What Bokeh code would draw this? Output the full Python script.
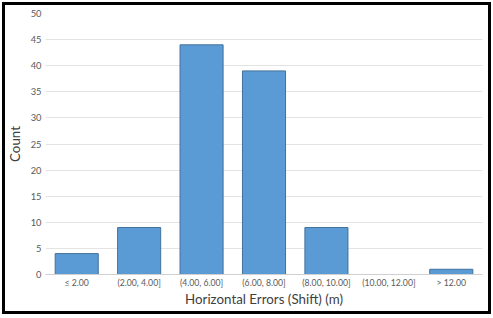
from bokeh.plotting import figure
from bokeh.models import FixedTicker, Range1d
from bokeh.embed import file_html
from bokeh.resources import INLINE

categories = ["≤ 2.00", "(2.00, 4.00]", "(4.00, 6.00]", "(6.00, 8.00]",
              "(8.00, 10.00]", "(10.00, 12.00]", "> 12.00"]
counts = [4, 9, 44, 39, 9, 0, 1]
y_ticks = [0, 5, 10, 15, 20, 25, 30, 35, 40, 45, 50]

FONT = "Lato"

p = figure(x_range=categories, width=493, height=316, output_backend="svg",
           toolbar_location=None, min_border_left=45, min_border_right=11,
           min_border_top=13, min_border_bottom=42)
p.y_range = Range1d(0, 50)
p.styles = {"outline": "3px solid black", "outline-offset": "-5px",
            "background-color": "white"}
p.border_fill_color = None
p.background_fill_color = None

p.vbar(x=categories, top=counts, width=0.69, fill_color="#5B9BD5",
       line_color="#41719C", line_width=1)

p.outline_line_color = None
p.xgrid.grid_line_color = None
p.ygrid.grid_line_color = "#E3E3E3"
p.yaxis.ticker = FixedTicker(ticks=y_ticks)
p.yaxis.axis_line_color = None
for ax in (p.xaxis, p.yaxis):
    ax.major_tick_line_color = None
    ax.minor_tick_line_color = None
    ax.major_tick_out = 0
    ax.major_tick_in = 0
    ax.minor_tick_out = 0
    ax.major_label_text_font = FONT
    ax.major_label_text_font_size = "7pt"
    ax.major_label_text_color = "#595959"
    ax.axis_label_text_font = FONT
    ax.axis_label_text_font_style = "normal"
    ax.axis_label_text_font_size = "10pt"
    ax.axis_label_text_color = "#404040"
p.xaxis.axis_line_color = "#D0D0D0"

p.xaxis.major_label_text_font_size = "6.5pt"
p.xaxis.axis_label = "Horizontal Errors (Shift) (m)"
p.yaxis.axis_label = "Count"
p.xaxis.major_label_standoff = 2
p.xaxis.axis_label_standoff = 0
p.yaxis.major_label_standoff = 4
p.yaxis.axis_label_standoff = 5

open("out.html", "w").write(file_html(p, INLINE))
